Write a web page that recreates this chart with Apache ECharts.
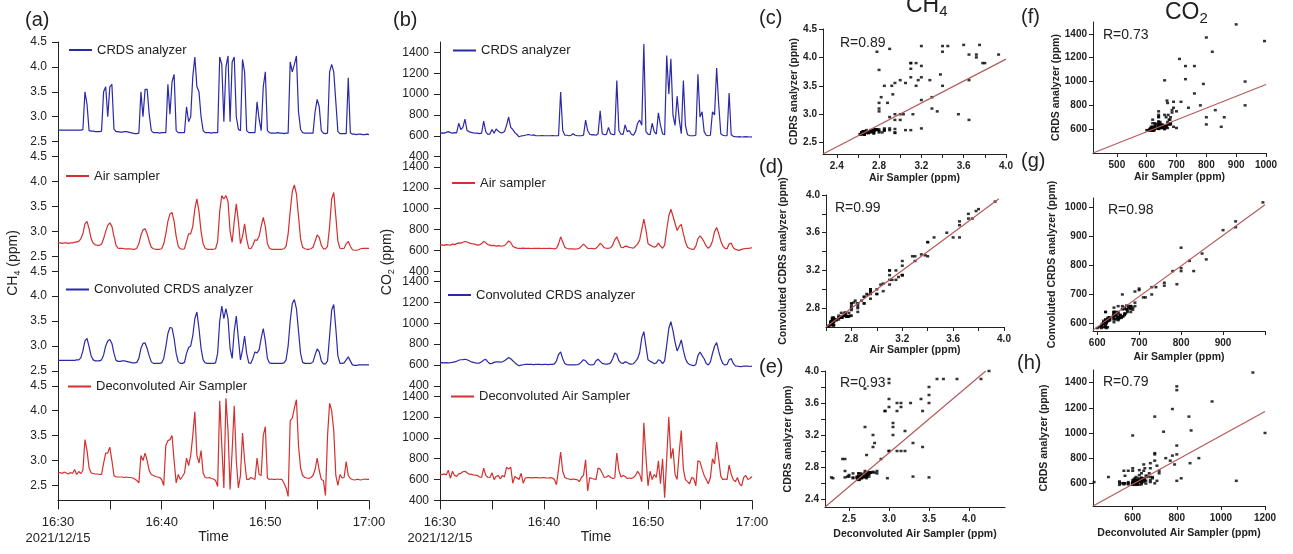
<!DOCTYPE html>
<html><head><meta charset="utf-8">
<script src="https://cdn.jsdelivr.net/npm/echarts@6/dist/echarts.min.js"></script>
<style>html,body{margin:0;padding:0;background:#fff}#c{width:1293px;height:554px}</style>
</head><body><div id="c"></div>
<script>
// ---------- DATA ----------
// sampling grid: minutes after 16:30 (12 s step)
const minutes = Array.from({length:151},(_, i)=>+(i*0.2).toFixed(1));
const timeTickValues = [0,10,20,30];
const timeTickLabels = ['16:30\n2021/12/15','16:40','16:50','17:00'];
const timeMinorTicks = [0,5,10,15,20,25,30];

const crdsCH4 = [2.73,2.73,2.73,2.73,2.73,2.73,2.73,2.73,2.73,2.73,2.73,2.73,2.74,
3.5,3.25,2.72,
2.71,2.71,2.70,2.70,2.70,2.71,
3.5,3.6,3.0,3.6,3.65,2.75,
2.70,2.70,2.69,2.69,2.70,2.70,2.69,2.68,2.67,2.66,2.66,2.67,
3.5,3.0,3.55,3.55,3.05,2.72,
2.68,2.68,2.68,2.67,2.68,2.68,2.68,
3.65,3.05,3.7,3.85,2.72,
2.68,2.68,2.68,2.68,
3.2,2.9,3.0,3.8,4.2,3.6,3.5,3.0,2.72,
2.68,2.68,2.68,2.67,2.68,2.68,2.68,
4.2,4.05,2.9,4.0,4.22,2.9,4.1,4.2,3.0,2.75,2.72,4.15,3.9,2.72,
2.68,2.68,2.68,2.68,
3.3,2.95,2.72,3.6,3.9,2.72,
2.68,2.67,2.67,2.67,2.68,2.67,2.67,2.66,2.67,2.67,
4.1,3.9,4.05,4.22,3.1,2.75,
2.68,2.67,2.67,2.67,2.67,2.67,
3.1,3.35,3.2,2.72,
2.67,2.66,2.67,
3.9,4.05,3.9,3.3,2.7,
2.66,2.66,2.66,2.66,
3.78,2.68,
2.65,2.65,2.64,2.65,2.65,2.64,2.64,2.65,2.64];

const airCH4 = [2.77,2.77,2.76,2.77,2.77,2.76,2.77,2.77,2.78,2.79,2.80,
2.85,2.95,3.15,3.2,3.05,2.85,2.76,2.73,2.72,2.72,
2.74,2.85,3.0,3.12,3.17,3.1,2.9,2.72,2.66,2.66,
2.66,2.65,2.65,2.65,2.65,2.64,2.64,2.66,2.75,2.92,
3.03,3.05,2.95,2.8,2.68,2.65,2.64,2.64,2.64,2.65,
2.75,2.95,3.2,3.35,3.38,3.2,2.9,2.7,2.65,2.64,
2.65,2.8,2.95,2.95,3.1,3.45,3.65,3.4,3.0,2.75,
2.66,2.64,2.64,2.64,2.64,2.65,2.8,3.4,3.72,3.65,
3.72,3.6,3.0,2.78,3.2,3.55,3.2,2.75,2.9,3.15,
2.85,2.66,2.65,2.72,2.83,2.82,2.9,3.1,3.28,3.1,
2.75,2.66,2.64,2.64,2.64,2.64,2.64,2.64,2.65,2.7,
2.95,3.4,3.8,3.93,3.75,3.3,2.85,2.68,2.65,2.64,
2.64,2.65,2.68,2.8,2.93,2.88,2.72,2.65,2.65,2.7,
3.1,3.65,3.78,3.3,2.8,2.66,2.65,2.66,2.75,2.8,
2.7,2.63,2.62,2.62,2.63,2.65,2.66,2.66,2.66,2.66];

const convCH4 = [2.71,2.71,2.71,2.71,2.71,2.71,2.71,2.71,2.71,2.72,2.72,
2.76,2.9,3.1,3.15,2.98,2.8,2.72,2.70,2.70,2.70,
2.72,2.82,3.0,3.1,3.13,3.05,2.85,2.71,2.69,2.69,
2.70,2.70,2.69,2.68,2.67,2.66,2.66,2.67,2.75,2.95,
3.05,3.06,2.95,2.8,2.68,2.65,2.65,2.65,2.65,2.66,
2.75,2.98,3.25,3.37,3.36,3.15,2.85,2.68,2.65,2.65,
2.67,2.85,2.97,3.0,3.2,3.55,3.68,3.35,2.95,2.72,
2.66,2.65,2.65,2.65,2.65,2.66,2.85,3.5,3.8,3.55,
3.75,3.55,2.95,2.75,3.3,3.6,3.15,2.72,2.92,3.2,
2.85,2.66,2.65,2.75,2.88,2.86,2.92,3.15,3.35,3.1,
2.75,2.66,2.65,2.65,2.65,2.65,2.65,2.65,2.66,2.72,
3.0,3.5,3.85,3.93,3.75,3.3,2.85,2.67,2.65,2.65,
2.65,2.65,2.68,2.82,2.94,2.88,2.7,2.64,2.64,2.7,
3.2,3.72,3.83,3.35,2.8,2.65,2.65,2.66,2.72,2.78,
2.7,2.62,2.61,2.61,2.62,2.62,2.62,2.62,2.62,2.62];

const deconvCH4 = [2.75,2.76,2.74,2.77,2.75,2.73,2.76,2.74,2.82,2.72,2.78,
2.74,2.8,3.42,3.2,2.85,2.75,2.74,2.73,2.73,2.72,
2.72,2.95,3.15,3.15,3.27,3.0,2.7,2.67,2.67,2.67,
2.67,2.66,2.67,2.66,2.66,2.65,2.63,2.6,2.55,3.1,
3.0,3.15,3.0,2.8,2.72,2.7,2.68,2.67,2.66,2.62,
2.5,3.3,3.4,3.42,3.5,3.0,2.55,2.72,2.62,2.68,
2.75,3.05,2.9,3.1,3.5,3.98,3.1,2.95,3.2,2.75,
2.66,2.65,2.66,2.64,2.63,2.6,2.48,4.2,3.3,2.45,
4.25,3.6,2.42,3.2,4.1,3.0,2.45,2.7,3.55,3.0,
2.62,2.62,2.66,2.64,2.62,3.05,2.72,2.7,3.5,3.68,
2.65,2.62,2.63,2.62,2.62,2.63,2.62,2.62,2.55,2.45,
2.28,3.8,3.85,4.05,4.22,3.3,2.85,2.7,2.66,2.65,
2.64,2.66,2.7,2.82,3.05,2.8,2.62,2.6,2.3,3.5,
4.15,4.0,3.6,2.7,2.5,2.72,2.65,2.66,2.98,2.7,
2.64,2.62,2.61,2.62,2.62,2.61,2.62,2.63,2.62,2.62];

const crdsCO2 = [625,628,626,632,640,630,625,630,628,720,660,
680,760,650,640,632,628,625,625,620,625,
740,640,612,618,660,625,665,645,630,628,
640,700,780,680,660,630,612,590,598,600,
605,610,610,605,608,602,600,600,602,600,
600,600,600,602,600,600,600,1020,650,605,
605,600,605,620,605,600,600,602,605,750,
650,615,608,610,605,620,840,620,610,612,
680,620,612,610,1130,650,615,612,705,640,
650,615,605,640,720,750,700,1480,640,615,
610,720,640,615,820,700,620,610,1370,1000,
1340,800,700,980,760,620,1130,700,610,602,
600,600,605,1190,780,830,640,605,600,605,
830,800,1250,900,620,605,600,600,1010,610,
595,592,590,592,588,590,592,590,588,590];

const airCO2 = [650,652,648,655,652,650,660,655,665,672,670,
678,685,680,672,665,662,658,650,652,665,
685,675,655,650,645,648,640,645,640,642,
645,665,690,675,640,628,622,620,620,622,
620,620,620,618,620,620,620,620,618,620,
618,620,620,618,615,620,660,730,680,630,
618,615,615,615,612,615,620,640,660,640,
620,618,620,615,620,640,668,650,625,622,
620,625,650,700,730,680,630,625,640,638,
628,625,622,640,660,700,800,900,800,665,
650,640,630,640,670,640,620,650,800,930,
995,930,860,790,830,850,760,680,630,618,
612,610,640,710,740,715,680,640,620,640,
690,780,820,760,690,640,620,615,660,670,
625,610,605,600,610,615,618,620,622,625];

const convCO2 = [620,622,620,622,620,622,625,630,635,645,650,
652,655,650,640,630,625,620,618,618,630,
648,654,630,612,615,625,630,630,628,630,
640,655,672,660,640,622,605,592,598,602,
605,606,605,605,604,605,605,605,604,605,
605,604,605,605,610,640,700,725,660,615,
602,600,600,600,600,602,610,630,650,640,
615,602,600,605,640,655,635,615,610,608,
610,620,660,715,700,640,620,615,630,625,
610,608,612,635,660,720,860,920,780,650,
635,625,612,620,650,640,612,640,790,950,
1015,930,820,735,780,840,740,660,620,605,
598,592,605,690,725,690,660,615,600,630,
710,780,815,730,660,615,600,605,650,662,
615,592,588,585,585,588,590,588,585,588];

const deconvCO2 = [650,648,655,645,690,612,680,640,630,655,660,
675,680,665,652,650,645,642,640,625,620,
710,640,622,620,665,600,630,640,605,640,
625,720,700,720,565,630,615,600,660,565,
615,618,620,616,618,620,618,615,618,620,
616,615,618,615,600,550,700,865,680,620,
610,605,600,605,602,598,580,620,640,790,
490,620,610,605,600,710,700,660,620,625,
640,620,610,615,855,690,625,640,630,610,
615,610,620,640,680,650,580,1145,820,540,
680,600,650,620,780,560,800,425,800,1200,
800,900,650,600,860,1070,700,600,580,560,
620,610,540,780,770,700,640,600,560,620,
800,750,960,800,630,600,605,600,740,650,
600,580,620,560,540,620,640,600,610,630];

const ch4TickValues = [2.5,3.0,3.5,4.0,4.5];
const co2TickValues = [400,600,800,1000,1200,1400];

// regression lines (two end points each)
const fitC = [[2.27,2.3],[4.0,3.97]];
const fitD = [[2.6,2.6],[3.96,3.96]];
const fitE = [[2.2,2.3],[4.21,4.0]];
const fitF = [[420,400],[1000,975]];
const fitG = [[590,578],[1000,1007]];
const fitH = [[420,420],[1200,1170]];
const rValues = ['0.89','0.99','0.93','0.73','0.98','0.79'];

// scatter axis ticks
const cXLab=[2.4,2.8,3.2,3.6,4.0], cXTick=[2.4,2.6,2.8,3.0,3.2,3.4,3.6,3.8,4.0], cYLab=[2.5,3.0,3.5,4.0,4.5];
const dXLab=[2.8,3.2,3.6,4.0], dXTick=[2.6,2.8,3.0,3.2,3.4,3.6,3.8,4.0], dYLab=[2.8,3.2,3.6,4.0], dYTick=[2.8,3.0,3.2,3.4,3.6,3.8,4.0];
const eXLab=[2.5,3.0,3.5,4.0], eYLab=[2.4,2.8,3.2,3.6,4.0], eYTick=[2.4,2.6,2.8,3.0,3.2,3.4,3.6,3.8,4.0];
const fXLab=[500,600,700,800,900,1000], fYLab=[600,800,1000,1200,1400];
const gXLab=[600,700,800,900], gXTick=[600,700,800,900,1000], gYLab=[600,700,800,900,1000];
const hXLab=[600,800,1000,1200], hYLab=[600,800,1000,1200,1400];

// ---------- CHART ----------
const FONT = '"Liberation Sans", Arial, sans-serif';
const BLUE = '#2a2aa8', RED = '#d3302f', FIT = '#b65a5c', AX = '#222';
const TS_TOP = 42, TS_H = 114.6;
const grids=[], xAxes=[], yAxes=[], series=[], legends=[];
const G = {containLabel:false, outerBoundsMode:'none'};

function tsPanel(left, width, ymin, ymax, yVals, yFmt, sets) {
  sets.forEach((s, i) => {
    const gi = grids.length;
    grids.push(Object.assign({left, width, top: TS_TOP + i*TS_H, height: TS_H}, G));
    const bottom = i === 3;
    xAxes.push({type:'value', gridIndex:gi, min:0, max:30, show: bottom,
      axisLine:{show:true, onZero:false, lineStyle:{color:AX, width:1}},
      axisTick:{show:true, customValues: timeMinorTicks, length:9, lineStyle:{color:AX}},
      axisLabel:{show:true, customValues: timeTickValues, fontSize:13, color:AX, margin:14, lineHeight:16, fontFamily:FONT,
        formatter: v => timeTickLabels[timeTickValues.indexOf(v)] || ''},
      splitLine:{show:false},
      name: bottom ? 'Time' : '', nameLocation:'middle', nameGap:30, nameMoveOverlap:false,
      nameTextStyle:{fontSize:14, color:AX, fontFamily:FONT}});
    yAxes.push({type:'value', gridIndex:gi, min:ymin, max:ymax,
      axisLine:{show:true, onZero:false, lineStyle:{color:AX, width:1}},
      axisTick:{show:true, customValues: yVals, length:6, lineStyle:{color:AX}},
      axisLabel:{show:true, customValues: yVals, fontSize:12, color:AX, margin:11, fontFamily:FONT, formatter: yFmt},
      splitLine:{show:false}});
    series.push({type:'line', name:s.name, xAxisIndex:gi, yAxisIndex:gi,
      data: minutes.map((m,k)=>[m, s.data[k]]), symbol:'none', showSymbol:false,
      lineStyle:{color:s.color, width:1.2}, itemStyle:{color:s.color}, animation:false});
    legends.push({data:[{name:s.name, icon:'rect'}], left:s.lx, top:s.ly, padding:0,
      itemWidth:23, itemHeight:2, itemGap:0, selectedMode:false,
      textStyle:{fontSize:13, color:AX, fontFamily:FONT}});
  });
}

tsPanel(58, 311, 2.2, 4.5, ch4TickValues, v => v.toFixed(1), [
  {name:'CRDS analyzer', data:crdsCH4, color:BLUE, lx:69, ly:43.5},
  {name:'Air sampler', data:airCH4, color:RED, lx:66, ly:169.5},
  {name:'Convoluted CRDS analyzer', data:convCH4, color:BLUE, lx:66, ly:283},
  {name:'Deconvoluted Air Sampler', data:deconvCH4, color:RED, lx:68, ly:380}
]);
tsPanel(440, 312, 400, 1500, co2TickValues, v => String(v), [
  {name:'CRDS analyzer', data:crdsCO2, color:BLUE, lx:453, ly:44},
  {name:'Air sampler', data:airCO2, color:RED, lx:452, ly:176.5},
  {name:'Convoluted CRDS analyzer', data:convCO2, color:BLUE, lx:448, ly:288.5},
  {name:'Deconvoluted Air Sampler', data:deconvCO2, color:RED, lx:451, ly:390}
]);

function scatterPanel(p) {
  const gi = grids.length;
  grids.push(Object.assign({}, p.box, G));
  const lab = {fontSize:10, fontWeight:'bold', color:AX, fontFamily:FONT};
  xAxes.push({type:'value', gridIndex:gi, min:p.xr[0], max:p.xr[1],
    axisLine:{show:true, onZero:false, lineStyle:{color:AX}},
    axisTick:{show:true, customValues:p.xTick || p.xLab, length:4, lineStyle:{color:AX}},
    axisLabel:Object.assign({customValues:p.xLab, margin:7, formatter:p.fmt}, lab),
    splitLine:{show:false}, name:p.xName, nameLocation:'middle', nameGap:p.xGap, nameMoveOverlap:false,
    nameTextStyle:Object.assign({}, lab, {fontSize:10.5})});
  yAxes.push({type:'value', gridIndex:gi, min:p.yr[0], max:p.yr[1],
    axisLine:{show:true, onZero:false, lineStyle:{color:AX}},
    axisTick:{show:true, customValues:p.yTick || p.yLab, length:4, lineStyle:{color:AX}},
    axisLabel:Object.assign({customValues:p.yLab, margin:6, formatter:p.fmt}, lab),
    splitLine:{show:false}, name:p.yName, nameLocation:'middle', nameGap:p.yGap, nameMoveOverlap:false,
    nameTextStyle:Object.assign({}, lab, {fontSize:10.5})});
  series.push({type:'scatter', xAxisIndex:gi, yAxisIndex:gi,
    data: p.xs.map((x,k)=>[x, p.ys[k]]), symbol:'rect', symbolSize:[3,2.5],
    itemStyle:{color:'#000'}, clip:true, animation:false, z:2});
  series.push({type:'line', xAxisIndex:gi, yAxisIndex:gi, data:p.fit, symbol:'none',
    lineStyle:{color:FIT, width:1.2}, clip:true, animation:false, z:3});
}
const f1 = v => v.toFixed(1), f0 = v => String(v);
scatterPanel({box:{left:823, top:29, width:183, height:125}, xr:[2.27,4.0], yr:[2.3,4.5],
  xLab:cXLab, xTick:cXTick, yLab:cYLab, fmt:f1, xName:'Air Sampler (ppm)', xGap:19,
  yName:'CDRS analyzer (ppm)', yGap:23, xs:airCH4, ys:crdsCH4, fit:fitC});
scatterPanel({box:{left:826, top:195, width:178, height:132}, xr:[2.6,4.0], yr:[2.6,4.0],
  xLab:dXLab, xTick:dXTick, yLab:dYLab, yTick:dYTick, fmt:f1, xName:'Air Sampler (ppm)', xGap:18,
  yName:'Convoluted CDRS analyzer (ppm)', yGap:37, xs:airCH4, ys:convCH4, fit:fitD});
scatterPanel({box:{left:825, top:371, width:180, height:136}, xr:[2.2,4.45], yr:[2.3,4.0],
  xLab:eXLab, yLab:eYLab, yTick:eYTick, fmt:f1, xName:'Deconvoluted Air Sampler (ppm)', xGap:22,
  yName:'CDRS analyzer (ppm)', yGap:31, xs:deconvCH4, ys:crdsCH4, fit:fitE});
scatterPanel({box:{left:1093, top:22, width:173, height:131}, xr:[420,1000], yr:[400,1500],
  xLab:fXLab, yLab:fYLab, fmt:f0, xName:'Air Sampler (ppm)', xGap:19,
  yName:'CRDS analyzer (ppm)', yGap:31, xs:airCO2, ys:crdsCO2, fit:fitF});
scatterPanel({box:{left:1093, top:198, width:172, height:133}, xr:[590,1000], yr:[575,1030],
  xLab:gXLab, xTick:gXTick, yLab:gYLab, fmt:f0, xName:'Air Sampler (ppm)', xGap:21,
  yName:'Convoluted CRDS analyzer (ppm)', yGap:35, xs:airCO2, ys:convCO2, fit:fitG});
scatterPanel({box:{left:1093, top:370, width:172, height:136}, xr:[420,1200], yr:[420,1500],
  xLab:hXLab, yLab:hYLab, fmt:f0, xName:'Deconvoluted Air Sampler (ppm)', xGap:22,
  yName:'CRDS analyzer (ppm)', yGap:43, xs:deconvCO2, ys:crdsCO2, fit:fitH});

function txt(x, y, text, size, extra) {
  return Object.assign({type:'text', x, y, silent:true, style:{text, fill:AX,
    font: size + 'px ' + FONT, textAlign:'left', align:'left', textVerticalAlign:'middle', verticalAlign:'middle'}}, extra || {});
}
function subText(x, y, main, sub, tail, size, subSize, extra, align) {
  const rich = {
    a:{fontSize:size, fontFamily:FONT, fill:AX, color:AX, lineHeight:size+4, verticalAlign:'middle'},
    s:{fontSize:subSize, fontFamily:FONT, fill:AX, color:AX, lineHeight:subSize, verticalAlign:'bottom'}
  };
  return Object.assign({type:'text', x, y, silent:true, style:{
    text:'{a|'+main+'}{s|'+sub+'}' + (tail ? '{a|'+tail+'}' : ''), rich,
    textAlign:align, align:align, textVerticalAlign:'middle', verticalAlign:'middle'}}, extra || {});
}
const graphic = [
  txt(25, 20, '(a)', 20), txt(393, 20, '(b)', 20),
  txt(759, 18, '(c)', 20), txt(759, 167, '(d)', 20), txt(759, 367, '(e)', 20),
  txt(1021, 17, '(f)', 20), txt(1021, 161, '(g)', 20), txt(1017, 363, '(h)', 20),
  subText(906, 6, 'CH', '4', '', 23, 15, null, 'left'),
  subText(1165, 13, 'CO', '2', '', 23, 15, null, 'left'),
  subText(13, 263, 'CH', '4', ' (ppm)', 14, 9, {rotation:Math.PI/2}, 'center'),
  subText(387, 262, 'CO', '2', ' (ppm)', 14, 9, {rotation:Math.PI/2}, 'center'),
  txt(840, 43, 'R=' + rValues[0], 14), txt(835, 208, 'R=' + rValues[1], 14), txt(840, 383, 'R=' + rValues[2], 14),
  txt(1103, 35, 'R=' + rValues[3], 14), txt(1108, 210, 'R=' + rValues[4], 14), txt(1103, 382, 'R=' + rValues[5], 14)
];

const chart = echarts.init(document.getElementById('c'), null, {renderer:'canvas'});
chart.setOption({
  animation:false, backgroundColor:'#fff',
  textStyle:{fontFamily:FONT},
  grid:grids, xAxis:xAxes, yAxis:yAxes, series, legend:legends, graphic
});
</script></body></html>
